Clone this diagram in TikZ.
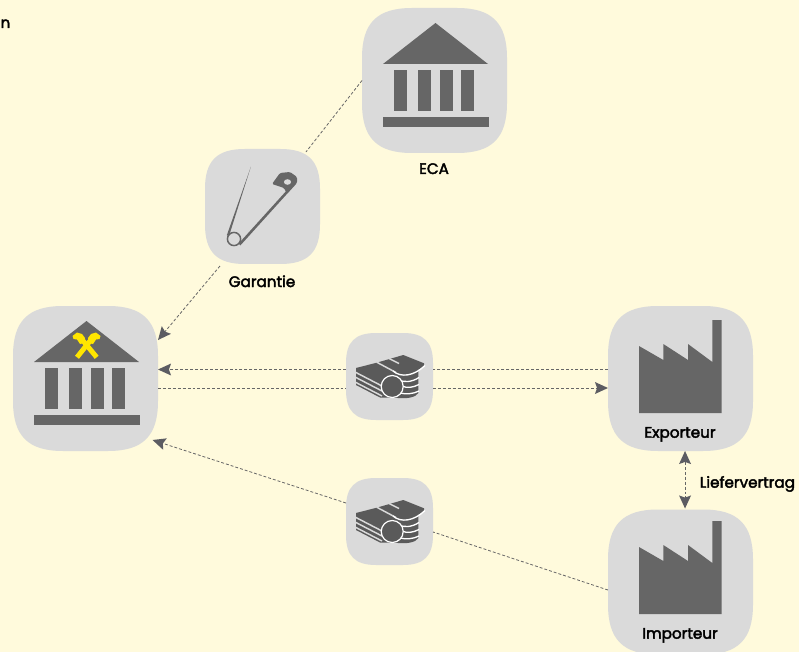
\documentclass[tikz,border=0pt]{standalone}
\usepackage{fontspec}
\setmainfont{Poppins}
\newfontfamily\labfont[FakeBold=2.6]{Poppins}
\usetikzlibrary{arrows.meta}
\definecolor{bgc}{HTML}{FFFADC}
\definecolor{tilec}{HTML}{DADADA}
\definecolor{iconc}{HTML}{666666}
\definecolor{moneyc}{HTML}{5A5A5A}
\definecolor{tipc}{HTML}{5C5C62}
\definecolor{goldc}{HTML}{FFE600}
\tikzset{
  x=0.75pt,y=-0.75pt,
  conn/.style={draw=iconc,line width=0.6pt,dash pattern=on 2.2pt off 1.5pt},
  headtip/.tip={Stealth[length=9.8pt,width=9pt,inset=1.6pt,color=tipc,fill=tipc,line width=0pt]},
  tipped/.style={-headtip},
  tippedboth/.style={headtip-headtip},
  lab/.style={font=\fontsize{11.4pt}{13pt}\labfont,text=black,inner sep=0pt,anchor=base},
  box/.style={inner sep=0pt,outer sep=0pt,minimum size=#1*0.75pt},
  seam/.style={draw=tilec,line width=1.1pt},
  arcseam/.style={draw=white,line width=1pt},
}
\newcommand{\tile}[4]{% name, left, top, size
  \pgfmathsetmacro{\tilescale}{#4/145}
  \fill[tilec,shift={(#2,#3)},scale=\tilescale]
    (50,0) -- (95,0) .. controls (130,0) and (145,15) .. (145,50)
    -- (145,95) .. controls (145,130) and (130,145) .. (95,145)
    -- (50,145) .. controls (15,145) and (0,130) .. (0,95)
    -- (0,50) .. controls (0,15) and (15,0) .. (50,0) -- cycle;
  \node[box=#4] (#1) at (#2+#4/2,#3+#4/2) {};
}
\newcommand{\bankicon}[2]{%
  \begin{scope}[shift={(#1,#2)}]
    \fill[iconc] (73.5,15) -- (126,56) -- (21,56) -- cycle;
    \fill[iconc] (32,62) rectangle (45,103);
    \fill[iconc] (56,62) rectangle (69,103);
    \fill[iconc] (78,62) rectangle (91,103);
    \fill[iconc] (99,62) rectangle (112,103);
    \fill[iconc] (21,109) rectangle (127,119);
  \end{scope}
}
\newcommand{\factoryicon}[2]{%
  \fill[iconc,shift={(#1,#2)}] (31,40) -- (55.3,54) -- (55.3,38) -- (80,54) -- (80,38)
    -- (104.3,56) -- (104.3,14) -- (113.7,14) -- (113.7,107) -- (31,107) -- cycle;
}
\newcommand{\moneyicon}[2]{%
  \begin{scope}[shift={(#1,#2)}]
    \fill[moneyc] (10,35) -- (30.7,29.7) -- (57.3,22) -- (78,30.3) -- (78,33) -- (72.3,37)
       -- (72.3,60) .. controls (70,64) and (62,66) .. (52,65) -- (34,64.5) -- (10,52) -- cycle;
    % bill seams
    \draw[seam] (8,38.5) -- (36,53);
    \draw[seam] (8,43.5) -- (36,58);
    \draw[seam] (8,48.5) -- (36,63);
    \draw[seam] (30.7,29.2) -- (50,39.5);
    \draw[seam] (43,25.5) -- (53,30.5);
    % coin seams
    \draw[arcseam] (47,38) .. controls (55,45) and (68,43) .. (79,32.5);
    \draw[arcseam] (52,46.5) .. controls (58,50) and (66,49) .. (73,44.5);
    \draw[arcseam] (56,53) .. controls (61,55.5) and (67,54.5) .. (73,51.5);
    \draw[arcseam] (54,60) .. controls (60,61.5) and (67,61) .. (73,58);
    \fill[moneyc,draw=white,line width=0.9pt] (46.2,53.5) circle [radius=11];
  \end{scope}
}
\begin{document}
\begin{tikzpicture}
  \useasboundingbox (0,0) rectangle (799,652);
  \clip (0,0) rectangle (799,652);
  \fill[bgc] (0,0) rectangle (799,652);

  \tile{eca}{362}{8}{145}
  \tile{gar}{205}{149}{115}
  \tile{bank}{13}{306}{145}
  \tile{moneya}{346}{333}{87}
  \tile{moneyb}{346}{478}{87}
  \tile{exp}{608}{306}{145}
  \tile{imp}{608}{509.5}{145}

  \bankicon{362}{8}
  \bankicon{13}{306}
  \factoryicon{608}{306}
  \factoryicon{608}{507}
  \moneyicon{346}{333}
  \moneyicon{346}{478}

  % Raiffeisen gable
  \draw[goldc,line width=3.75pt] (77,357.3) -- (92,338.5);
  \draw[goldc,line width=3.75pt] (96.7,357.3) -- (82,339.5);
  \fill[goldc] (72.5,336) -- (77,332.5) -- (82,334) -- (85,338) -- (84,343) -- (80,344) -- (77,339.5) -- (73.5,339) -- cycle;
  \fill[goldc] (100.5,336) -- (96,332.5) -- (91,334) -- (88,338) -- (89,343) -- (93,344) -- (96,339.5) -- (99.5,339) -- cycle;

  % safety pin
  \draw[iconc,line width=1.1pt] (234,239) circle [radius=6.6];
  \fill[iconc] (250.9,166.7) -- (229,236) -- (226.8,235.3) -- cycle;
  \draw[iconc,line width=1.9pt] (239.5,244.5) -- (287,192);
  \fill[iconc,rounded corners=1pt] (272,184) -- (280,173) -- (290,172) -- (297,177)
     -- (297,183) -- (287,194) -- (284,188) -- cycle;
  \fill[tilec] (287.5,182) ellipse [x radius=3.6,y radius=2.8];

  % connector levels
  \coordinate (ya) at (0,369.5);
  \coordinate (yb) at (0,388);
  \coordinate (yc) at (0,590);
  \coordinate (yd) at (0,532);
  \coordinate (ye) at (0,503);

  % connectors
  \draw[conn] (eca.west) -- ([xshift=32.6pt,yshift=-2.25pt]gar.north);
  \draw[conn,tipped] ([xshift=-31.9pt,yshift=-1.5pt]gar.south) -- ([yshift=-25.5pt]bank.north east);
  \draw[conn,tipped] (moneya.west |- ya) -- (bank.east |- ya);
  \draw[conn] (exp.west |- ya) -- (moneya.east |- ya);
  \draw[conn] (bank.east |- yb) -- (moneya.west |- yb);
  \draw[conn,tipped] (moneya.east |- yb) -- (exp.west |- yb);
  \draw[conn] (imp.west |- yc) -- (moneyb.east |- yd);
  \draw[conn,tipped] (moneyb.west |- ye) -- ([xshift=-4.1pt,yshift=8.25pt]bank.south east);
  \draw[conn,tippedboth] ([xshift=3.4pt]exp.south) -- ([xshift=3.4pt,yshift=0.75pt]imp.north);

  % labels
  \node[lab] (tn) at (5.5,28) {n};
  \node[lab] (teca) at (434,174) {ECA};
  \node[lab] (tgar) at (262,287) {Garantie};
  \node[lab] (texp) at (680,437.7) {Exporteur};
  \node[lab] (timp) at (680,638.7) {Importeur};
  \node[lab,anchor=base west] (tlief) at (699.5,487.7) {Liefervertrag};
\end{tikzpicture}
\end{document}
